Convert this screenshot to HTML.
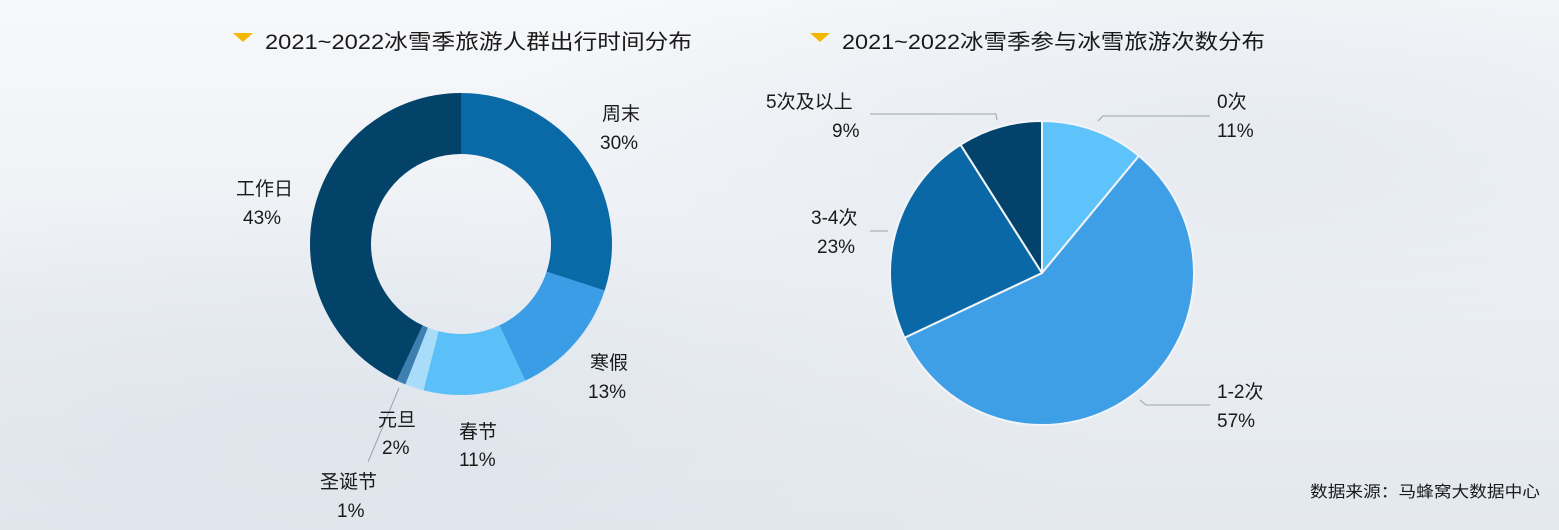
<!DOCTYPE html>
<html><head><meta charset="utf-8"><style>
html,body{margin:0;padding:0}
body{width:1559px;height:530px;overflow:hidden;background:linear-gradient(180deg,#f7f8fa 0%,#eef1f5 45%,#e3e8ee 100%);position:relative;font-family:"Liberation Sans","Noto Sans CJK SC",sans-serif}
svg{position:absolute;left:0;top:0}
text{font-family:"Liberation Sans","Noto Sans CJK SC",sans-serif;fill:#1a1a1a}
</style></head><body>
<svg width="1559" height="530" viewBox="0 0 1559 530">
<defs>
<radialGradient id="g1" cx="0.2" cy="0.85" r="0.5"><stop offset="0" stop-color="#dfe5ec"/><stop offset="1" stop-color="#dfe5ec" stop-opacity="0"/></radialGradient>
<radialGradient id="g2" cx="0.8" cy="0.3" r="0.5"><stop offset="0" stop-color="#e6ebf1"/><stop offset="1" stop-color="#e6ebf1" stop-opacity="0"/></radialGradient>
</defs>
<rect width="1559" height="530" fill="url(#g1)"/>
<rect width="1559" height="530" fill="url(#g2)"/>
<polygon points="233,33 253,33 243,42" fill="#f5b800"/>
<text x="265" y="49" font-size="21" textLength="427" lengthAdjust="spacingAndGlyphs">2021~2022冰雪季旅游人群出行时间分布</text>
<polygon points="810,33 830,33 820,42" fill="#f5b800"/>
<text x="842" y="49" font-size="21" textLength="423" lengthAdjust="spacingAndGlyphs">2021~2022冰雪季参与冰雪旅游次数分布</text>
<g id="donut"></g>
<g id="pie"></g>
<g stroke="#9aa3ad" stroke-width="1" fill="none">
<polyline points="870,114 996,114 997,120"/>
<polyline points="1098,121 1103,116 1210,116"/>
<polyline points="870,231 888,231"/>
<polyline points="1140,400 1146,405 1210,405"/>
<line x1="399" y1="388" x2="368" y2="462"/>
</g>
<g font-size="19">
<text x="602" y="120">周末</text><text x="600" y="149">30%</text>
<text x="590" y="369">寒假</text><text x="588" y="398">13%</text>
<text x="459" y="438">春节</text><text x="459" y="466">11%</text>
<text x="378" y="426">元旦</text><text x="382" y="454">2%</text>
<text x="320" y="488">圣诞节</text><text x="337" y="517">1%</text>
<text x="236" y="195">工作日</text><text x="243" y="224">43%</text>
<text x="766" y="108">5次及以上</text><text x="832" y="137">9%</text>
<text x="1217" y="108">0次</text><text x="1217" y="137">11%</text>
<text x="811" y="224">3-4次</text><text x="817" y="253">23%</text>
<text x="1217" y="398">1-2次</text><text x="1217" y="427">57%</text>
</g>
<text x="1310" y="497" font-size="16" textLength="230" lengthAdjust="spacingAndGlyphs">数据来源：马蜂窝大数据中心</text>
</svg>
<script>
function pt(cx,cy,r,a){a=(a-90)*Math.PI/180;return [cx+r*Math.cos(a),cy+r*Math.sin(a)];}
function ring(cx,cy,R,r,a0,a1,c,stroke){var l=(a1-a0)>180?1:0;var p1=pt(cx,cy,R,a0),p2=pt(cx,cy,R,a1);var d;
if(r>0){var p3=pt(cx,cy,r,a1),p4=pt(cx,cy,r,a0);d="M"+p1+" A"+R+","+R+" 0 "+l+" 1 "+p2+" L"+p3+" A"+r+","+r+" 0 "+l+" 0 "+p4+"Z";}
else d="M"+cx+","+cy+" L"+p1+" A"+R+","+R+" 0 "+l+" 1 "+p2+"Z";
return '<path d="'+d+'" fill="'+c+'"'+(stroke?' stroke="#f2f5f8" stroke-width="2" stroke-linejoin="round"':'')+'/>';}
var s="",a=0,d=[[30,"#0a6aa8"],[13,"#3a9de6"],[11,"#5bc0f8"],[2,"#a8dcf8"],[1,"#3c7fb0"],[43,"#03436a"]];
d.forEach(function(x){var b=a+x[0]*3.6;s+=ring(461,244,151,90,a,b,x[1]);a=b;});
document.getElementById("donut").innerHTML=s;
s="";a=0;d=[[11,"#5ec3fb"],[57,"#3f9fe6"],[23,"#0a68a6"],[9,"#03426a"]];
d.forEach(function(x){var b=a+x[0]*3.6;s+=ring(1042,273,152,0,a,b,x[1],1);a=b;});
document.getElementById("pie").innerHTML=s;
</script>
</body></html>
